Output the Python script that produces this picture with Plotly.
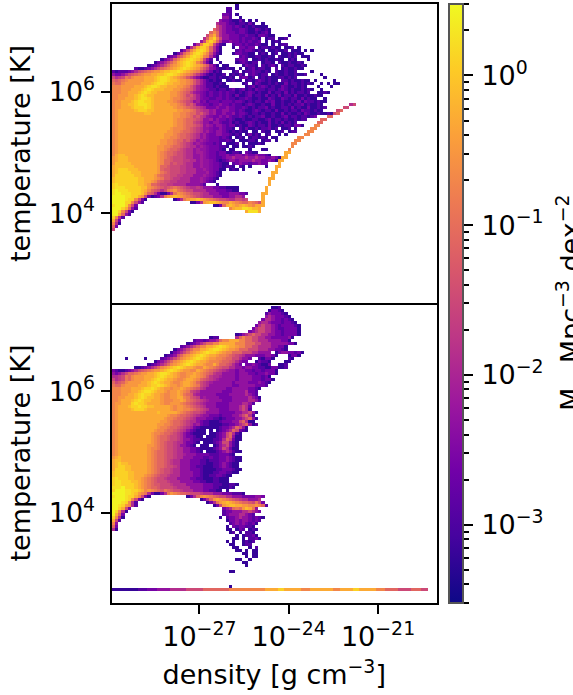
import re
import plotly.graph_objects as go

# Bin level (log10 of M_sun Mpc^-3 dex^-2)
LEVELS = dict(a=-3.2, A=-3.05, b=-2.9, B=-2.75, c=-2.6, C=-2.45, d=-2.3, D=-2.1, e=-1.9, E=-1.7, f=-1.5, F=-1.3,
              g=-1.1, G=-0.9, h=-0.7, H=-0.5, i=-0.3, I=-0.1, j=0.1, J=0.25, k=0.42)
LOG_DENSITY_RANGE = [-29.95, -19.02]
LOG_TEMP_RANGE = [2.52, 7.45]
XTICKS = [-27, -24, -21]
XLABELS = ["10<sup>−27</sup>", "10<sup>−24</sup>", "10<sup>−21</sup>"]
YTICKS = [4, 6]
YLABELS = ["10<sup>4</sup>", "10<sup>6</sup>"]
CTICKS = [1e-3, 1e-2, 1e-1, 1]
CLABELS = ["10<sup>−3</sup>", "10<sup>−2</sup>", "10<sup>−1</sup>", "10<sup>0</sup>"]
CMINOR = [3e-4,4e-4,5e-4,6e-4,7e-4,8e-4,9e-4,2e-3,3e-3,4e-3,5e-3,6e-3,7e-3,8e-3,9e-3,
          2e-2,3e-2,4e-2,5e-2,6e-2,7e-2,8e-2,9e-2,.2,.3,.4,.5,.6,.7,.8,.9,2,3]

# Rows from the top of each panel; "@n" moves to column n, letter+count is a run, "." is empty
TOP_ROWS = [
"@38 a",
"@35 b2 @38 a",
"@35 b2",
"@34 c2 b @38 a",
"@34 d2 b @39 a",
"@33 d c2 b a2 c a @42 a @44 a",
"@32 e d2 c b2 a b2 a c @43 a @46 a",
"@32 f e d c2 b c b a b @42 a b a2 @46 a2",
"@31 g f e d c2 b2 c2 b a2 c b a b a",
"@30 g h g e d c3 b c2 b a2 b a b c @48 a",
"@29 f h i g e d2 c3 b2 c b2 a c2 b a2 @49 a @54 a",
"@28 e g i j h f d2 c3 b c b2 c b a . a b2 . a2 b",
"@27 d f i j i g e c2 d c2 b c b c b2 c . a . a b @51 a",
"@25 c e h j j i f d b a .2 b c2 b c b2 c b a2 . a . a b2",
"@23 b e g i j j i g e c a .3 a . c2 b c2 . a b2 a b a2 . a2 b . a",
"@21 b d f h i j J j i g e c a .4 b c b c2 b a b a . a2 b a2 b . a3 @59 a @61 a",
"@19 a c e g h i j J j i h f d b a .3 a c2 b2 a2 . a b a . a b . a2 b a b a @58 a",
"@17 b c d f g h i j J j I h G e c a .6 b c b a2 b2 a2 b a . b a2 b a b . a @59 a2",
"@15 a c d e g h i I j J j I H f d b .1 a .5 b c2 b . a2 b a b a2 b a2 . a b a @60 a",
"@13 a c d e f g h i I j J j I h g e c a .2 a .4 a b c b a b2 . a b2 a . b a2 b a2 b a",
"@11 a b c d e f g h H i I j J j I i H G F D c a .1 a2 .4 a c b2 a . b a b c a . b a b2 a2 b a",
"@7 b a2 b c d e f g G h H i I j J j I i H G F E d C b a2 b a2 . a . a b c a b2 a2 . b . a b a2 b a2",
"b a b3 c d e f F g G h H2 i I2 j2 J j I i H h G F E D c b a @31 a b a . .2 a b . a b2 c b2 a b a . b a2 b a2 b @61 a",
"d c2 d e f F g G h H2 i2 I2 j J2 j I i H h G F E D C b a b a2 b . a b a c a . b c b a b2 . a b a2 b a2 b a2 b @64 a",
"f e E f G g h H3 i3 I j J2 j I i H h G F E D C b a2 b2 a b a2 b a . b c2 a b . a b a b a2 b2 a b a b @65 a",
"g F g G h H5 i3 I j J2 j I2 i H2 h G F E D C b a b a2 . a2 b a2 . a b a b c b a b a2 . b2 a b a2 b a2 . a @68 a",
"G g2 h H5 i3 I j J2 j I2 i2 H2 h G F E D C b2 a2 b a .5 a b . a c b a2 b a b a2 c a b2 a b a b a @64 a . a @68 a2",
"h3 H4 i3 I j J2 j I2 i3 H2 h G F E D d C b2 a b a2 a .4 . a b c a b c b a b a2 c b a2 b a b a @63 a @67 a",
"h3 H3 i3 I j J j I3 i3 H2 h G g F E D d C c b2 a b2 a b c a b c a b a c b2 a b2 a b c b a b a2 b a b a @64 a",
"h3 H2 i3 I j J j I2 i4 H2 h G g F E D d C c b c b2 c b c b2 a b a b c b a b a2 c a b2 a c a b a b2 a b @63 a2 b a",
"h2 H3 i2 I j J j I2 i5 H2 h G g f F E D C c b c b2 c b c b a c a2 b c a b2 a c a b a c a b2 a c a2 b a2 b a @64 a",
"h2 H2 i3 I j J2 j I i5 H h2 G g F f E D C c2 b2 c2 b c b2 a b2 c b a2 b a2 c b a2 c b a b2 a c a b a2 @65 a",
"h H2 i3 I j J2 j2 I i4 H2 h G g F f E d D c C b c3 b c3 b c2 b a b a b2 a c b c a2 b a2 b a c a c b2 a b a2",
"h H2 i2 I2 j J3 j I i5 H2 h G g f F E d C c2 b c2 d c2 b c b2 a b c b a2 b a2 c a2 b a b a b2 c a b a2 b a @73 e f",
"h H2 i3 I j3 J j I i6 H h2 G g F f E e D c3 d c2 d c2 b2 c b a b a b2 c a b a2 b b a c a b a2 c a2 b a b @71 f2",
"h H i5 I j3 I2 i7 H2 h2 G g f E e2 d D c2 d2 c2 b c b a2 b c b a b2 a c a2 b a b2 a c b2 a b a2 @69 f g",
"h H i8 I2 i7 H2 h2 G g2 f F E e d D c2 d c2 d b c2 b a b2 a b a2 b a2 c a b a2 b a c b a2 b a2 b a @68 f g",
"h H i17 H2 h2 G g f F E e d C c2 d c d c b2 c b a b a b2 c a2 b a2 b c a b2 a b2 a b c @66 g2",
"h H i17 H h2 G g2 F f E d2 D c d c2 b c b a2 b a2 b2 a2 b c a b2 a b a2 b a b2 @64 g2",
"h H i17 H h2 G g2 f E e d2 c d2 c b2 c a b a2 b c b a b a2 c a b a c a b a b @63 g2",
"h H i17 H h2 G g2 F f E d D d c d2 c b c2 a b a2 c b a b2 a c a2 b a b2 a c2 a @62 h2",
"h H i16 H h3 G g F f E e d2 C c2 d c b2 a . b a c a2 b a b2 c a b . a2 b . a @61 h2",
"h H i15 H2 h2 G g2 F f E e d D C c d2 c b a b a b a2 . a2 . b a2 . a2 b . a b2 @60 h2",
"h H i14 H3 h G g2 F f E e d D C c2 d2 c2 b a b a . a c a b a . a b .2 a .1 a @59 h2",
"h H i14 H2 h2 G g2 F f E e d D C c3 b c b a . a b a . a b2 a b a . a2 @57 h2",
"h H i13 H2 h2 G g2 f F E e d D d C c3 b2 c b a . a3 b2 a . a b2 . a @56 h2",
"h H i13 H2 h2 G g F f E e d D d C c2 b c b . a3 b . a . a3 b a @55 h2",
"h H i12 H2 h2 G g2 F f E e2 d D d C c3 b2 a . a2 . a2 b a @55 h",
"h H i12 H2 h G g2 F f E e2 d D d2 C c3 b a . a2 @42 a @46 a2 @54 h",
"h H i12 H h G g2 F f2 E e2 d D2 d C c2 b c2 a2 b2 a . c b a2 @53 i2",
"h i I2 i10 H h G g2 F f2 E e2 d2 D d C c2 b c2 d c2 d2 c d c2 d c2 b a @53 i",
"H i I3 i9 H h G g F f3 E e2 d2 D d C c2 b2 c d2 e d3 e d2 e d2 c2 d c a @52 i2",
"H i I3 i9 H h g2 F f3 E2 e2 d D d2 C c b a b c d2 c d3 d e d2 c2 d c a @51 i2",
"H I2 I3 i8 H h g2 f F f2 E e2 d2 D d2 C c2 b a2 . b c d c2 b c2 d c2 @51 i",
"i I3 I3 i7 H g2 F f3 E2 e2 d2 D d2 C c2 b a b2 a . b a . a @47 a @50 i2",
"i I j3 I3 i6 H g F2 f3 E2 e3 d2 D d C c2 a2 . a b a . a @50 i",
"i I j4 I3 i5 H G g F f3 E2 e3 d3 D C c b a @45 a @49 i2",
"i j6 I2 i4 H G g F2 f2 E2 e3 d3 D d C c b a @49 i",
"I j7 I2 i3 H h G F2 f E2 e3 d3 D d C c b a @48 i2",
"I j7 I2 i2 H h g F f2 E2 e4 d3 D d c b a . @48 i",
"j J j6 I2 i H g2 F f2 E2 e4 d4 C b .3 a @48 i",
"j J3 j5 I2 H h G g F f F g G g F f E e2 E e d3 c2 b2 a2 a2 @47 i",
"J k J3 j4 I i h g F f e f G h H G g F f2 e4 d3 c3 b2 a2 @47 i",
"J k2 J3 j3 I H g F e c a2 c e G H h G g F f2 E e2 d3 c3 d3 c2 b @46 i2",
"k4 J2 j2 i H f c a @13 b c e G H i I i H h G g F f E e3 d3 c2 d2 e2 d @46 i",
"k4 J j2 h f c a @19 a c e G H i2 I i H h G g F f2 E e2 f2 E f @46 i",
"k4 j2 h f d b @24 a2 c e H i I2 i H h2 i H h G g2 h G g f @46 i",
"J k3 j h f c @31 a2 c g i I i H i I i H h i I j @45 i2",
"k3 j i g d b @36 h i I2 J2 j I2 @45 i",
"k2 j h f c a @41 i J3 i",
"k2 i g d b",
"j h e b",
"i f c",
"h e a",
"g c",
"f",
]

BOTTOM_ROWS = [
"",
"@49 a2 b",
"@48 a c2 b a",
"@47 b d c3 b a",
"@47 d e d c3 b a",
"@46 c e2 d c2 b c b a",
"@45 d e2 d c3 b c2 b a",
"@44 c e f e2 d c b c4 b a",
"@43 c e f2 e2 d c b2 c4 a",
"@42 c d e f2 e2 d c2 b c4 a",
"@38 a b d e f g f2 e2 d2 c2 b c4 a",
"@30 a b2 @38 e g h g2 f2 e2 d2 c5 d a",
"@25 b c2 b c d2 e g h2 i3 h2 g2 f2 e3 d4 c2 a",
"@23 a b c d e f g2 h2 i5 h3 g3 f2 e3 d5 c2 a",
"@21 b c d e f g h2 i2 I j J j I i2 H h2 g2 f2 e4 d2 c2 a",
"@19 a c d e f g h2 i2 I j J2 j I i H2 h g3 f3 e3 d2 c2 b a",
"@18 a c d e f g h H i I j J j2 I i H h2 g3 f3 e2 d4 . a c d2 c2 b c a",
"@16 a b c d f g h H i I j J j I i2 H h2 G g F f E e d3 c3 d2 c a .3 a c2 a",
"@4 a @10 a @15 b c d e f g h H i I j J j I i H2 h2 G g2 f2 e d2 c .2 b a c2 a .4 b a",
"@13 a c d e f g h H i I j J j I i2 H h3 G g2 F f e d c2 .2 a c b2 a .4 a2",
"@11 a b c d e f g h H i I j J j I i2 H h2 i h g2 F f e d c . c2 d c b a2 c .2 a2 b",
"@7 a2 b c d e f g h H i I j J j I i2 H h2 i H h G g F f2 e2 d2 c d2 c2 b2 a2 c2 a2 b",
"c b a2 b c d e f F g G h H2 i I j J j I i H2 h2 i H h G g F f E e D d2 c d2 c2 b c2 b c3 a",
"d c d e f g2 G h H2 i2 I j J2 j I i H h2 H2 i H h G g F E e2 d4 c d3 c2 b c2 d c2 a",
"e2 E f G g h H3 i3 I j J j I2 i H h2 H i2 H h G F E e2 D d4 c d4 c3 b c a",
"f e E f G g h H3 i2 I j J j I i2 H h2 H i2 H h g F f E e D d5 c d4 c3 b c2 a",
"g f F g h H4 i2 I j J j I i2 H h2 H i2 H h g f E e D d6 c d4 c3 d c b a",
"G g2 h H4 i3 I j2 J j I i H2 h H i2 H h G f E e d7 c2 d5 c3 b",
"h3 H3 i3 I j2 J j I i H2 h H2 i H h G g F E e d6 c2 d5 c2 b a",
"h3 H3 i2 I j J2 j I i2 H h H2 i H h G f E e d7 c3 d4 e c2 b",
"h3 H2 i2 I j J j2 I i2 H h2 H2 i H G g F e D d5 c4 d5 e d c b",
"h2 H2 i3 I j J j I2 i2 H h2 H2 i2 h G F f E d D d4 c4 d5 e d c a",
"h2 H i3 I j J j I2 i3 H h3 H2 i H G g F f E e D d4 c3 d5 e2 d b",
"h H2 i3 j J j2 I i4 H h2 H3 h G g F f E e D d3 c4 d4 e2 d b",
"h H i3 I j2 J j2 I2 i5 H h H2 h G g F f E e d3 c4 d3 e f e c",
"h H i4 I j3 I i7 H h H2 h2 G g F f E e d3 c3 d3 e f e b",
"h H i12 I i5 H h G g F f2 E e d4 c5 d2 e2 f d a",
"h H i15 H h2 G g2 F f E e D d2 c3 b c3 d2 e f g e b",
"h H i14 H h2 G g2 F f E e d3 c2 b2 a b c3 d2 e f g d a",
"h H i13 H2 h G g2 F f E e2 d c b2 a3 b c3 d2 f g e a2",
"h H i12 H2 h2 G g2 F f E e d D c b2 a4 b2 c2 d e f g d a b",
"h H i12 H h2 G g2 F f E e D c b a6 b c2 d e g f d a",
"h H i11 H h2 G g2 F f E e d c b a3 . a . a b c d e g f c b a",
"h H i10 H h2 G g2 F f E e d c b a4 . a2 b c d f g e b a",
"h H i10 H h G g2 F f2 E e d c2 b a2 . a3 b c d f g d a2",
"h H i10 H h G g2 F f2 E e d2 c b2 a4 b2 c e g f c a2",
"h H i10 H h G g F f2 E e2 d c2 b a . a3 b c d f2 d b a",
"h H i9 H2 h G g F f2 E e d2 c b a . a3 . a b d e f d b a",
"h H i9 H h2 G g F f2 E e2 d2 c2 b a4 b c d f e c a2",
"h H i9 H h G g2 F f2 E e2 d2 c2 b a . a3 b c d e d b a2",
"h H i9 H h G g2 F f2 E e2 D d3 c4 b3 c3 b a .",
"H i I i8 H h G g2 F f2 E e2 d3 c3 b2 c b2 c2 d c b a2",
"i I2 i8 H h G g2 F f E e2 d3 c3 b2 a b3 c2 d c b a2",
"i I j I2 i6 H h G g2 F f E e2 d3 c3 b2 a2 b2 c d c b a2",
"i I j2 I2 i5 H h G g2 F f2 E e d3 c2 b2 a3 b2 c d c b a2",
"i j3 I2 i5 H h G g F f2 E e2 d3 c3 b a4 b2 c c2 b a2",
"I j4 I2 i4 H h G g F f2 E e2 d4 c2 b a3 b2 c2 b2 a2",
"I j4 I2 i3 H h G g F f2 E e3 d4 c2 b a2 b2 c2 b a2",
"j J j3 I2 i2 H h G g F f2 E e3 d4 c2 b2 a3 b2 a3",
"j J2 j3 I2 i H h G g F f3 E e3 d4 c2 b2 a2 b2 a3",
"j J2 j4 I i H h G g F2 f3 E e4 d5 c3 b3 a2 b2 a",
"J3 k j3 I i H h G g2 F f4 E e4 d4 c3 b2 a3 b a",
"j k3 J2 j2 I i h H h G g F G g F f2 E e3 d3 c2 b2 a2 . a",
"k4 J2 j I H h G e c a2 c e G H h G g2 F f3 E e3 d3 c3 b3 a",
"J k3 J j2 i h f c a @23 a c e g h H h G g F f2 e2 d3 c4 d2 c",
"k4 J j h f c a @27 a c e g H i H h G g F f E e2 d3 e",
"k3 J j h e b @29 a c e G H i I i H h G g2 F f G f c",
"k2 J j H h e b @31 a c f H i I2 i2 H2 h2 H h g b",
"k2 j i f c @34 c d e g G g H I i G d",
"k j h e a @34 b c2 d3 e2 f e d c",
"k i g c @34 b c d3 e2 d c b",
"j h e a @33 a . b c2 d e d2 c b c b a",
"i f b @35 a c2 d c d2 c b c b",
"h d @36 b c d c d c b c a",
"g c @35 a . c b c2 b2 a",
"e a @35 a2 . a c b . a b a",
"@36 a b . a . b2 a",
"@38 a . a b2 c a",
"@37 a2 . a . b2 c a",
"@35 a . a .2 a b a b",
"@36 a2 .2 a b2",
"@37 a2 .3 a . b",
"@38 a2 . a . a2",
"@40 a2 . a2",
"@41 a . a2",
"@38 a2 .2 a",
"@40 a2",
"@41 a",
"",
"@36 a2",
"", "", "", "",
"@36 a",
"a8 b3 c3 d4 e5 f5 g8 h11 i4 j2 i5 h3 i7 h2 i4 j2 i5 h3 g4 f4 g3 f2",
]

NROW, NCOL = 100, 100

def decode(rows):
    grid = [[None] * NCOL for _ in range(NROW)]
    for r, text in enumerate(rows):
        col = 0
        for jump, ch, cnt in re.findall(r"@(\d+)|([.a-kA-J])(\d*)", text):
            if jump:
                col = int(jump)
                continue
            for _ in range(int(cnt) if cnt else 1):
                if col < NCOL and ch != ".":
                    grid[r][col] = LEVELS[ch]
                col += 1
    return grid

W, H = 573, 695
dx = (LOG_DENSITY_RANGE[1] - LOG_DENSITY_RANGE[0]) / NCOL
dy = (LOG_TEMP_RANGE[1] - LOG_TEMP_RANGE[0]) / NROW
xc = [LOG_DENSITY_RANGE[0] + (i + .5) * dx for i in range(NCOL)]
yc = [LOG_TEMP_RANGE[1] - (i + .5) * dy for i in range(NROW)]

fig = go.Figure()
fig.add_trace(go.Heatmap(x=xc, y=yc, z=decode(TOP_ROWS), coloraxis="coloraxis", xaxis="x", yaxis="y", hoverongaps=False))
fig.add_trace(go.Heatmap(x=xc, y=yc, z=decode(BOTTOM_ROWS), coloraxis="coloraxis", xaxis="x2", yaxis="y2", hoverongaps=False))
# carries the colour-bar tick axis
fig.add_trace(go.Scatter(x=[0], y=[CTICKS[0]], mode="none", xaxis="x3", yaxis="y3", hoverinfo="skip"))

FONT = dict(family="DejaVu Sans", size=27, color="black")
frame = dict(showline=True, linecolor="black", linewidth=2, showgrid=False, zeroline=False,
             tickcolor="black", tickwidth=2, ticklen=9, tickfont=FONT)
xdom = [111.5 / W, 437 / W]
ydom_top = [1 - 303 / H, 1 - 4 / H]
ydom_bot = [1 - 603 / H, 1 - 303 / H]

yaxis_common = dict(range=LOG_TEMP_RANGE, tickmode="array", tickvals=YTICKS, ticktext=YLABELS, ticks="outside", mirror=True,
                    title=dict(text="temperature [K]", font=FONT, standoff=10), **frame)

fig.update_layout(
    width=W, height=H, margin=dict(l=0, r=0, t=0, b=0), paper_bgcolor="white", plot_bgcolor="white",
    font=FONT, showlegend=False,
    xaxis=dict(domain=xdom, range=LOG_DENSITY_RANGE, anchor="y", ticks="", showticklabels=False, mirror=True, **frame),
    yaxis=dict(domain=ydom_top, anchor="x", **yaxis_common),
    xaxis2=dict(domain=xdom, range=LOG_DENSITY_RANGE, anchor="y2", ticks="outside", tickmode="array", tickvals=XTICKS,
                ticktext=XLABELS, title=dict(text="density [g cm<sup>−3</sup>]", font=FONT, standoff=14), **frame),
    yaxis2=dict(domain=ydom_bot, anchor="x2", **yaxis_common),
    coloraxis=dict(
        colorscale="Plasma", cmin=-3.523, cmax=0.477,
        colorbar=dict(x=449 / W, xanchor="left", xpad=0, ypad=0, y=1 - 603 / H, yanchor="bottom",
                      len=599, lenmode="pixels", thickness=14, thicknessmode="pixels",
                      outlinewidth=2, outlinecolor="#555555", ticks="", showticklabels=False),
    ),
    xaxis3=dict(domain=[449 / W, 463 / W], anchor="y3", visible=False, range=[0, 1]),
    yaxis3=dict(domain=[1 - 603 / H, 1 - 4 / H], anchor="x3", side="right", type="log", range=[-3.523, 0.477],
                tickmode="array", tickvals=CTICKS, ticktext=CLABELS, ticks="outside", ticklen=9, tickwidth=2,
                tickcolor="black", tickfont=FONT, ticklabelstandoff=3, showgrid=False, zeroline=False, showline=False,
                minor=dict(tickmode="array", tickvals=CMINOR, ticks="outside", ticklen=5, tickwidth=2,
                           tickcolor="black", showgrid=False)),
    annotations=[dict(text="M<sub>⊙</sub> Mpc<sup>−3</sup> dex<sup>−2</sup>", textangle=-90, showarrow=False, font=FONT,
                      xref="paper", yref="paper", x=570 / W, y=1 - 303 / H, xanchor="center", yanchor="middle")],
)

fig.write_html("out.html", config=dict(displayModeBar=False),
               post_script="document.body.style.margin='0';document.body.style.overflow='hidden';")
